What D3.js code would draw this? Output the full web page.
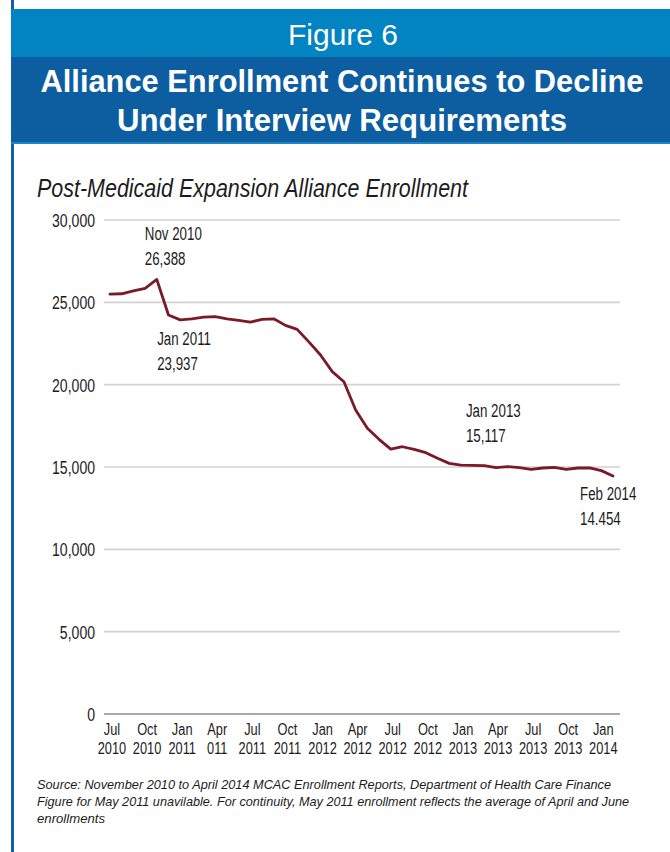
<!DOCTYPE html>
<html>
<head>
<meta charset="utf-8">
<script src="https://cdn.jsdelivr.net/npm/d3@7"></script>
<style>
  html, body { margin: 0; padding: 0; background: #ffffff; }
  svg { display: block; }
</style>
</head>
<body>
<div id="chart"></div>
<script>
// Monthly Alliance enrollment, July 2010 through February 2014
const months = [
  "Jul 2010","Aug 2010","Sep 2010","Oct 2010","Nov 2010","Dec 2010",
  "Jan 2011","Feb 2011","Mar 2011","Apr 2011","May 2011","Jun 2011",
  "Jul 2011","Aug 2011","Sep 2011","Oct 2011","Nov 2011","Dec 2011",
  "Jan 2012","Feb 2012","Mar 2012","Apr 2012","May 2012","Jun 2012",
  "Jul 2012","Aug 2012","Sep 2012","Oct 2012","Nov 2012","Dec 2012",
  "Jan 2013","Feb 2013","Mar 2013","Apr 2013","May 2013","Jun 2013",
  "Jul 2013","Aug 2013","Sep 2013","Oct 2013","Nov 2013","Dec 2013",
  "Jan 2014","Feb 2014"
];
const enrollment = [
  25500, 25520, 25700, 25850, 26388, 24230,
  23937, 24000, 24100, 24130, 24000, 23900,
  23800, 23970, 24000, 23600, 23360, 22600,
  21800, 20790, 20180, 18460, 17350, 16680,
  16090, 16230, 16070, 15870, 15530, 15220,
  15117, 15100, 15080, 14960, 15020, 14960,
  14860, 14940, 14980, 14860, 14940, 14940,
  14780, 14454
];

// Quarterly axis labels: [month, year]
const xTickMonths = ["Jul","Oct","Jan","Apr","Jul","Oct","Jan","Apr","Jul","Oct","Jan","Apr","Jul","Oct","Jan"];
const xTickYears  = ["2010","2010","2011","011","2011","2011","2012","2012","2012","2012","2013","2013","2013","2013","2014"];
const yTicks = [0, 5000, 10000, 15000, 20000, 25000, 30000];

// Called-out points: month label, printed value text
const calloutMonths = ["Nov 2010", "Jan 2011", "Jan 2013", "Feb 2014"];
const calloutTexts  = ["26,388", "23,937", "15,117", "14.454"];

const W = 670, H = 852;
const svg = d3.select("#chart").append("svg").attr("width", W).attr("height", H);

const sans = "'Liberation Sans', Arial, sans-serif";
const textColor = "#1c1c1c";

// Squeeze a text horizontally to mimic a condensed face
function condense(sel, factor) {
  sel.each(function () {
    const w = this.getComputedTextLength();
    d3.select(this).attr("textLength", w * factor).attr("lengthAdjust", "spacingAndGlyphs");
  });
  return sel;
}

// Frame and header bands
svg.append("rect").attr("x", 11).attr("y", 0).attr("width", 3).attr("height", H).attr("fill", "#0f60a8");
svg.append("rect").attr("x", 11).attr("y", 9).attr("width", W - 11).attr("height", 48).attr("fill", "#0283c2");
svg.append("rect").attr("x", 11).attr("y", 57).attr("width", W - 11).attr("height", 85).attr("fill", "#0d5da1");
svg.append("rect").attr("x", 11).attr("y", 142).attr("width", W - 11).attr("height", 2).attr("fill", "#1d86c6");

svg.append("text").attr("x", 343).attr("y", 45).attr("text-anchor", "middle")
  .attr("font-family", sans).attr("font-size", 29)
  .attr("fill", "#ffffff").attr("textLength", 110).attr("lengthAdjust", "spacingAndGlyphs")
  .text("Figure 6");

const titleLines = ["Alliance Enrollment Continues to Decline", "Under Interview Requirements"];
const titleWidths = [603, 450];
titleLines.forEach((t, i) => {
  svg.append("text").attr("x", 342).attr("y", 92 + i * 39).attr("text-anchor", "middle")
    .attr("font-family", sans).attr("font-size", 31)
    .attr("font-weight", "bold").attr("fill", "#ffffff")
    .attr("textLength", titleWidths[i]).attr("lengthAdjust", "spacingAndGlyphs")
    .text(t);
});

svg.append("text").attr("x", 37).attr("y", 197)
  .attr("font-family", sans).attr("font-style", "italic").attr("font-size", 25)
  .attr("fill", textColor).attr("textLength", 431).attr("lengthAdjust", "spacingAndGlyphs")
  .text("Post-Medicaid Expansion Alliance Enrollment");

// Scales
const x = d3.scaleLinear().domain([0, months.length - 1]).range([110, 613]);
const y = d3.scaleLinear().domain([0, 30000]).range([714, 220]);

// Gridlines
svg.append("g").selectAll("line").data(yTicks).join("line")
  .attr("x1", 104).attr("x2", 620)
  .attr("y1", d => y(d)).attr("y2", d => y(d))
  .attr("stroke", d => d === 0 ? "#8c8c8c" : "#d2d2d2")
  .attr("stroke-width", 1.6);

// Y-axis labels
const yAxis = d3.axisLeft(y).tickValues(yTicks).tickSize(0).tickPadding(0)
  .tickFormat(d3.format(","));
const yg = svg.append("g").attr("transform", "translate(95,0)").call(yAxis);
yg.select(".domain").remove();
yg.selectAll("text").attr("font-family", sans).attr("font-size", 18)
  .attr("fill", textColor).attr("dy", "0.36em");
condense(yg.selectAll("text"), 0.78);

// X-axis labels (two lines per quarter)
const xg = svg.append("g");
xTickMonths.forEach((m, i) => {
  const cx = x(i * 3) + 2;
  [m, xTickYears[i]].forEach((s, k) => {
    xg.append("text").attr("x", cx).attr("y", 735 + k * 19).attr("text-anchor", "middle")
      .attr("font-family", sans).attr("font-size", 16).attr("fill", textColor).text(s);
  });
});
condense(xg.selectAll("text"), 0.8);

// Enrollment line
const line = d3.line().x((d, i) => x(i)).y(d => y(d)).curve(d3.curveLinear);
svg.append("path").datum(enrollment)
  .attr("d", line).attr("fill", "none")
  .attr("stroke", "#7a1a28").attr("stroke-width", 2.8)
  .attr("stroke-linejoin", "round").attr("stroke-linecap", "round");

// Callouts, placed relative to their data point
const calloutOffsets = [[-12, -39], [-23, 25], [5, -48], [-33, 24]];
const cg = svg.append("g");
calloutMonths.forEach((m, i) => {
  const idx = months.indexOf(m);
  const px = x(idx) + calloutOffsets[i][0];
  const py = y(enrollment[idx]) + calloutOffsets[i][1];
  [m, calloutTexts[i]].forEach((s, k) => {
    cg.append("text").attr("x", px).attr("y", py + k * 25)
      .attr("font-family", sans).attr("font-size", 18).attr("fill", textColor).text(s);
  });
});
condense(cg.selectAll("text"), 0.74);

// Source notes
const notes = [
  "Source:  November 2010 to April 2014 MCAC Enrollment Reports, Department of Health Care Finance",
  "Figure for May 2011 unavilable. For continuity, May 2011 enrollment reflects the average of April and June",
  "enrollments"
];
const noteWidths = [574, 592, 68];
notes.forEach((n, i) => {
  svg.append("text").attr("x", 37).attr("y", 789 + i * 17)
    .attr("font-family", sans).attr("font-style", "italic").attr("font-size", 13)
    .attr("fill", textColor).attr("textLength", noteWidths[i]).attr("lengthAdjust", "spacingAndGlyphs")
    .text(n);
});
</script>
</body>
</html>
